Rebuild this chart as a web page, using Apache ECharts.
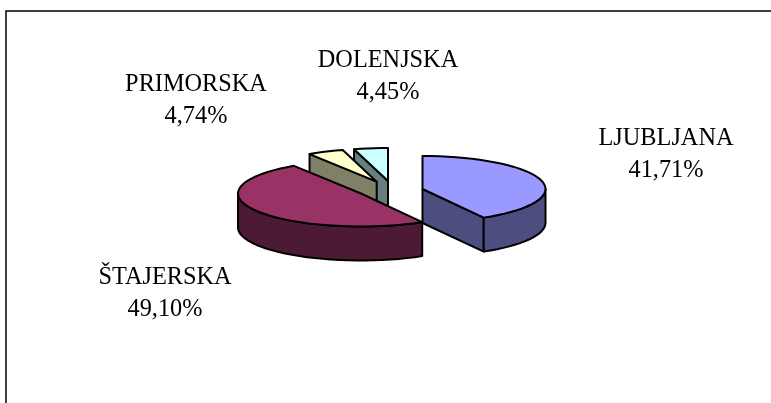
<!DOCTYPE html>
<html>
<head>
<meta charset="utf-8">
<style>
    html, body { margin: 0; padding: 0; background: #fff; }
    #chart { width: 771px; height: 403px; }
</style>
<script src="https://cdn.jsdelivr.net/npm/echarts@6/dist/echarts.min.js"></script>
</head>
<body>
<div id="chart"></div>
<script>
    var categories = ['LJUBLJANA', 'ŠTAJERSKA', 'PRIMORSKA', 'DOLENJSKA'];
    var shares = [41.71, 49.10, 4.74, 4.45];

    var topColors = ['#9999ff', '#993366', '#ffffcc', '#ccffff'];
    var wallColors = ['#4d4d80', '#4d1a33', '#808066', '#668080'];
    // centre of every exploded slice, and where its label sits
    var sliceCenters = [[422.5, 189], [361, 193.5], [376.7, 181.7], [388, 181]];
    var labelCenters = [[666, 155], [165, 293.5], [196, 101], [388, 77]];
    // back to front: DOLENJSKA, PRIMORSKA, LJUBLJANA, ŠTAJERSKA
    var drawOrder = [3, 4, 2, 1];

    var rx = 123, ry = 33, depth = 34;

    // angle is clockwise from the top of the pie, in degrees
    function rim(c, angle, down) {
        var a = angle * Math.PI / 180;
        return [c[0] + rx * Math.sin(a), c[1] - ry * Math.cos(a) + (down ? depth : 0)];
    }

    function arc(c, from, to, down) {
        var pts = [];
        var steps = Math.max(2, Math.ceil((to - from) / 4));
        for (var i = 0; i <= steps; i++) {
            pts.push(rim(c, from + (to - from) * i / steps, down));
        }
        return pts;
    }

    function poly(points, fill, z2) {
        return {
            type: 'polygon',
            z2: z2,
            shape: { points: points },
            style: { fill: fill, stroke: '#000', lineWidth: 2, lineJoin: 'round' }
        };
    }

    function edgeWall(c, angle, fill, z2) {
        return poly([
            c, rim(c, angle, false), rim(c, angle, true), [c[0], c[1] + depth]
        ], fill, z2);
    }

    function renderSlice(params, api) {
        var i = params.dataIndex;
        var start = 0;
        for (var k = 0; k < i; k++) start += shares[k];
        var a0 = start * 3.6;
        var a1 = a0 + api.value(0) * 3.6;
        var c = sliceCenters[i];
        var z = drawOrder[i] * 10;
        var children = [];

        // flat side walls, only when they face the viewer
        if (Math.cos((a0 - 90) * Math.PI / 180) < 0) children.push(edgeWall(c, a0, wallColors[i], z));
        if (Math.cos((a1 + 90) * Math.PI / 180) < 0) children.push(edgeWall(c, a1, wallColors[i], z));

        // outer wall, front half of the rim only
        var w0 = Math.max(a0, 90), w1 = Math.min(a1, 270);
        if (w1 > w0) {
            children.push(poly(
                arc(c, w0, w1, false).concat(arc(c, w0, w1, true).reverse()),
                wallColors[i], z + 1
            ));
        }

        children.push(poly([c].concat(arc(c, a0, a1, false)), topColors[i], z + 2));

        children.push({
            type: 'text',
            z2: 100,
            x: labelCenters[i][0],
            y: labelCenters[i][1],
            style: {
                text: categories[i] + '\n' + api.value(0).toFixed(2).replace('.', ',') + '%',
                fontFamily: '"Liberation Serif", serif',
                fontSize: 24.3,
                lineHeight: 32,
                fill: '#000',
                align: 'center',
                verticalAlign: 'middle'
            }
        });

        return { type: 'group', children: children };
    }

    var chart = echarts.init(document.getElementById('chart'), null, { renderer: 'canvas' });
    chart.setOption({
        animation: false,
        backgroundColor: '#fff',
        graphic: [{
            type: 'polyline',
            shape: { points: [[6, 403], [6, 11], [771, 11]] },
            style: { fill: null, stroke: '#000', lineWidth: 1.5 }
        }],
        series: [{
            type: 'custom',
            coordinateSystem: 'none',
            renderItem: renderSlice,
            data: shares.map(function (v) { return [v]; })
        }]
    });
</script>
</body>
</html>
